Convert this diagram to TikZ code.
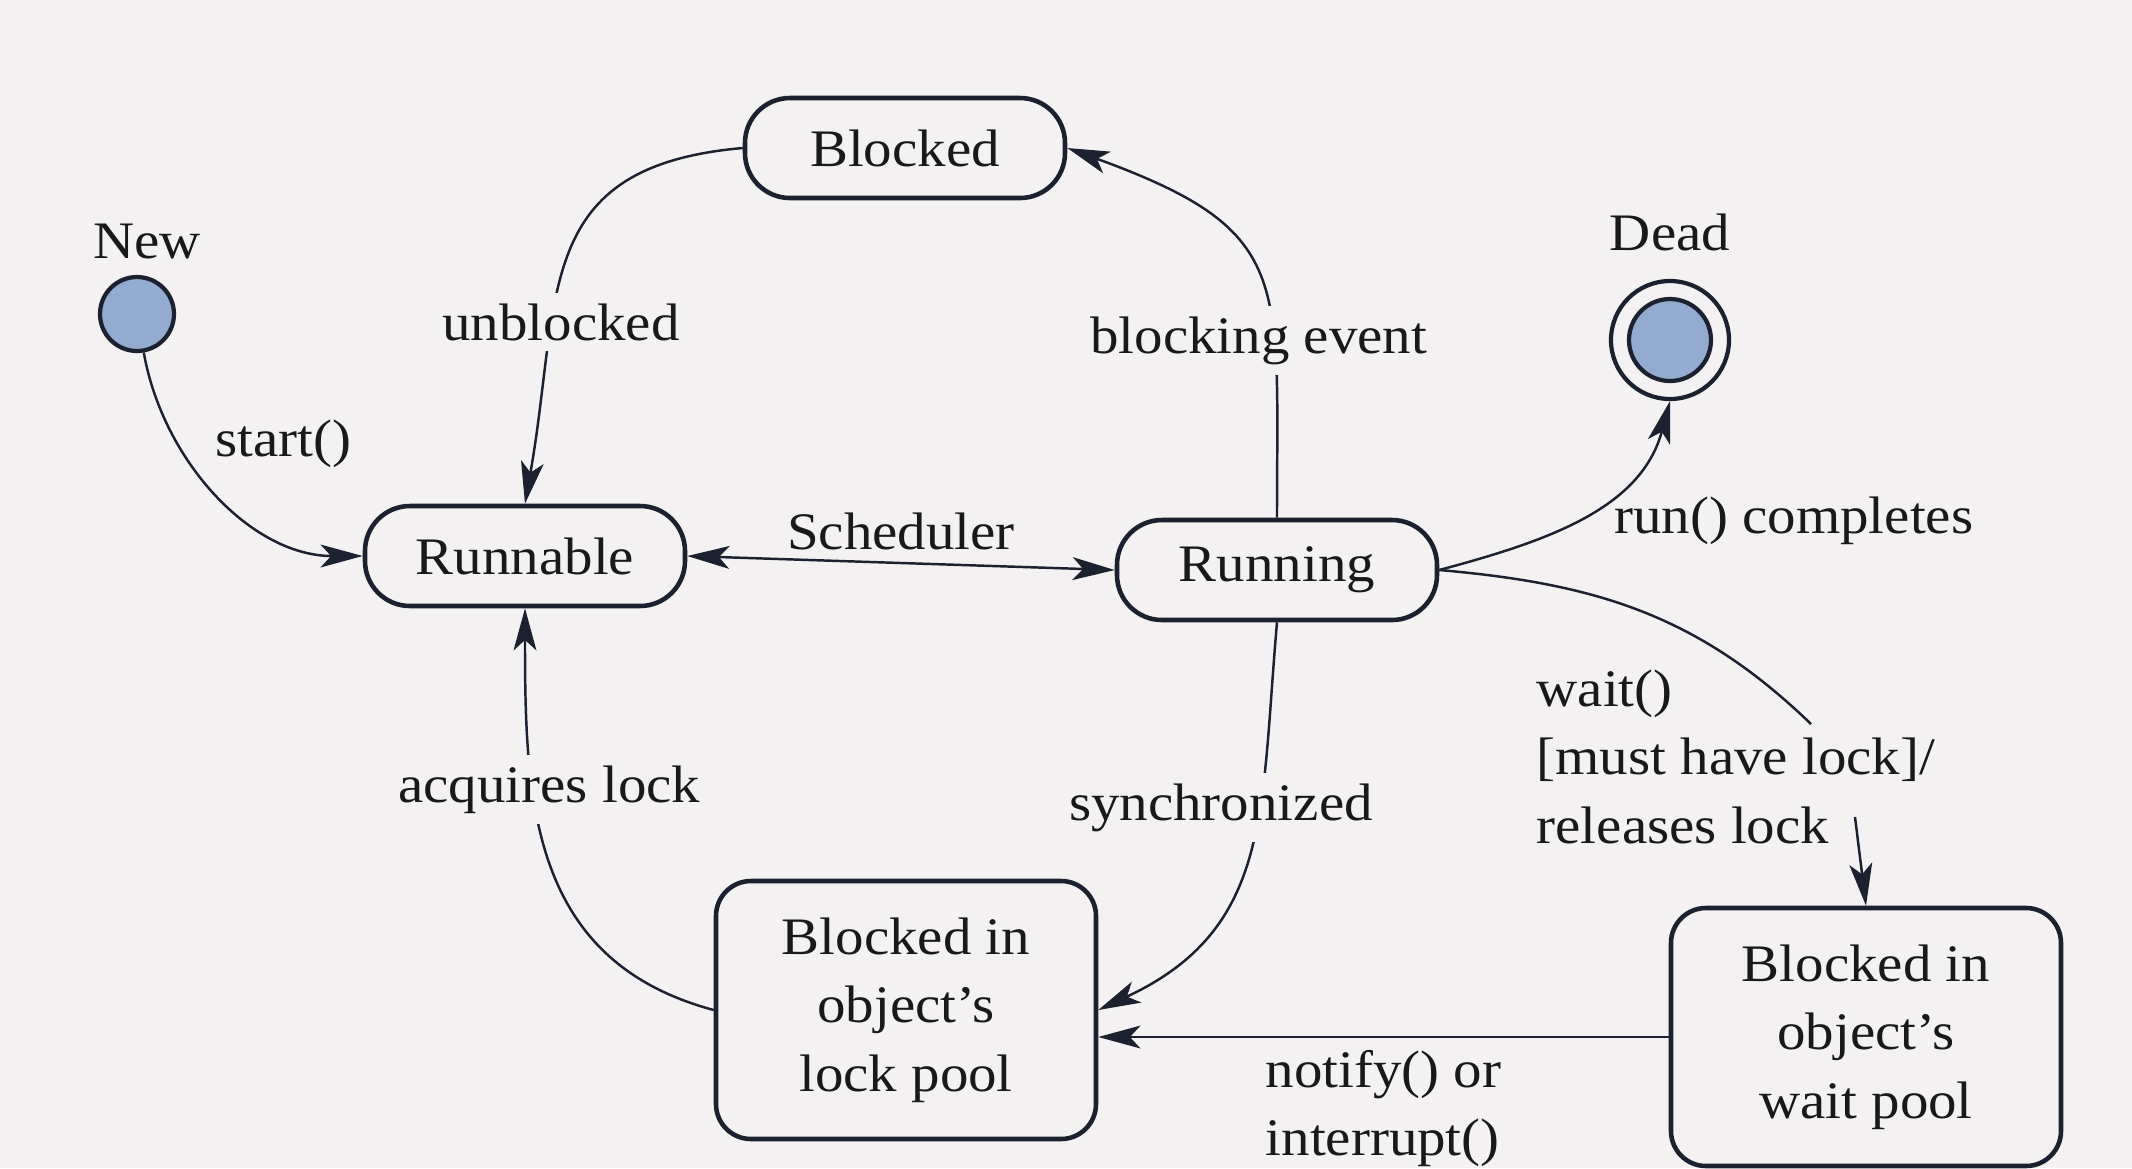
\documentclass[tikz,border=0pt]{standalone}
\usepackage{fontspec}
\setmainfont{Liberation Serif}[FakeStretch=1.08]
\usetikzlibrary{positioning,arrows.meta}

\definecolor{paper}{RGB}{243,241,241}
\definecolor{ink}{RGB}{27,33,46}
\definecolor{stateblue}{RGB}{146,171,206}
\newcommand{\diagfont}{\fontsize{15}{19.5}\selectfont}

\begin{document}
\begin{tikzpicture}[>={Stealth[length=12pt, width=6.5pt, inset=3pt]}]
  \tikzstyle{every node}=[font=\diagfont, text=black!90]
  \tikzstyle{statebox}=[draw=ink, line width=1.3pt, rounded corners=0.45cm, minimum width=3.2cm, minimum height=1.0cm]
  \tikzstyle{poolbox}=[draw=ink, line width=1.3pt, rounded corners=0.35cm, minimum width=3.8cm, minimum height=2.58cm, align=center]
  \tikzstyle{pseudo}=[circle, draw=ink, line width=1.2pt, fill=stateblue, inner sep=0pt]
  \tikzstyle{wire}=[draw=ink, line width=0.7pt]
  \tikzstyle{trans}=[wire, ->]
  \tikzstyle{tag}=[fill=paper, inner sep=3pt]

  \fill [paper] (0,0) rectangle (21.32,-11.68);
  \useasboundingbox (0,0) rectangle (21.32,-11.68);

  \node (new) [pseudo, minimum size=0.74cm] at (1.37,-3.14) {};
  \node (newlabel) [above=0.15cm of new, inner sep=0pt, xshift=1mm] {New};

  \node (blocked) [statebox] at (9.05,-1.48) {Blocked};
  \node (runnable) [statebox] at (5.25,-5.56) {Runnable};
  \node (running) [statebox] at (12.77,-5.70) {Running};

  \node (dead) [circle, draw=ink, line width=1.2pt, minimum size=1.18cm] at (16.70,-3.40) {};
  \node (deadcore) [pseudo, minimum size=0.82cm] at (dead.center) {};
  \node (deadlabel) [above=0.27cm of dead, inner sep=0pt] {Dead};

  \node (lockpool) [poolbox] at (9.06,-10.10) {Blocked in\\object's\\lock pool};
  \node (waitpool) [poolbox, minimum width=3.9cm] at (18.66,-10.37) {Blocked in\\object's\\wait pool};

  \coordinate (waitgap) at (18.11,-7.24);
  \coordinate (waitdrop) at (18.55,-8.17);

  \draw [trans] (new) to [out=-80, in=180, looseness=0.95] (runnable.west);
  \node (startlabel) at (2.83,-4.44) {start()};

  \draw [trans] (blocked.west) to [out=185, in=80, looseness=1.3] node [tag, pos=0.665, xshift=0.1cm] {unblocked} (runnable.north);
  \draw [trans] (running.north) to [out=90, in=-20, looseness=1.45] node [tag, pos=0.315, xshift=-0.15cm] {blocking event} (blocked.east);

  \draw [trans, <->] (runnable.east) -- node [above] {Scheduler} (running.west);

  \draw [trans] (running.east) to [out=15, in=-105] (dead.south);
  \node (runlabel) [anchor=west] at (16.02,-5.21) {run() completes};

  \draw [wire] (running.east) to [out=-5, in=136] (waitgap);
  \draw [trans] (waitdrop) -- (waitpool.north);
  \node (waitlabel) [anchor=north west, align=left, inner sep=0pt] at (15.36,-6.69) {wait()\\{[}must have lock]/\\releases lock};

  \draw [trans] (running.south) to [out=-95, in=25, looseness=1.15] node [tag, pos=0.375, xshift=-0.38cm] {synchronized} (lockpool.east);
  \draw [trans] (lockpool.west) to [out=165, in=-90, looseness=1.1] node [tag, pos=0.66, xshift=0.16cm] {acquires lock} (runnable.south);

  \draw [trans] (waitpool.west) -- node [below, align=left] {notify() or\\interrupt()} (lockpool.east |- waitpool.west);
\end{tikzpicture}
\end{document}
